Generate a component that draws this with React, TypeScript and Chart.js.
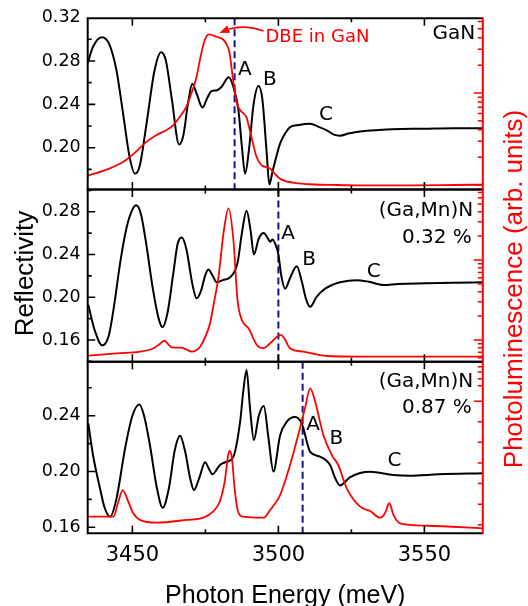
import React, { useEffect, useRef } from 'react';
import { Chart, registerables } from 'chart.js';

Chart.register(...registerables);

// ---------------- data ----------------
const xMajorTicks = [3450, 3500, 3550];
const xMinorTicks = [3475, 3525];

// GaN
const ganReflE = [3434.7, 3436.5, 3439.5, 3442, 3444.5, 3447, 3449, 3450.9, 3452.5, 3455, 3457.5, 3459.8, 3461.5, 3463.5, 3466, 3467.5, 3469, 3470.5, 3472, 3474, 3475.5, 3477, 3479, 3480.5, 3483, 3484.6, 3486.3, 3487.5, 3488.6, 3490, 3491.5, 3493.2, 3494.5, 3496, 3496.9, 3498, 3500.6, 3502.5, 3504, 3507, 3510.8, 3514, 3516.6, 3519, 3521.1, 3524, 3528, 3533, 3539, 3550, 3560, 3570];
const ganRefl = [0.278, 0.293, 0.302, 0.296, 0.272, 0.228, 0.192, 0.176, 0.183, 0.225, 0.270, 0.288, 0.280, 0.245, 0.203, 0.212, 0.240, 0.259, 0.250, 0.237, 0.245, 0.252, 0.253, 0.256, 0.265, 0.256, 0.235, 0.201, 0.176, 0.200, 0.240, 0.257, 0.245, 0.195, 0.166, 0.178, 0.204, 0.214, 0.219, 0.221, 0.222, 0.219, 0.216, 0.212, 0.211, 0.213, 0.215, 0.216, 0.217, 0.2175, 0.218, 0.218];
const ganPlE = [3434.7, 3442.3, 3446.9, 3450.3, 3454.9, 3458.3, 3461.7, 3464, 3466.2, 3468.5, 3470.2, 3472, 3473.1, 3474.8, 3476.2, 3478.8, 3481, 3482.4, 3483.3, 3484.5, 3485.8, 3487.3, 3489, 3490.2, 3491.3, 3492.5, 3494.2, 3497, 3498.3, 3500.4, 3505, 3510.8, 3520, 3530, 3545, 3560, 3570];
const ganPl = [1.26, 1.52, 1.79, 2.17, 2.96, 3.5, 3.96, 4.49, 5.5, 7.1, 9.9, 15, 22.8, 37.7, 43.5, 40.9, 38.4, 33.2, 27, 13.8, 7.7, 6.3, 5.5, 3.96, 2.84, 2.03, 1.65, 1.52, 1.38, 1.18, 1.06, 1.02, 1.0, 0.99, 0.99, 1.0, 1.01];

// (Ga,Mn)N 0.32 %
const mn032ReflE = [3434.9, 3437, 3439.7, 3442, 3444, 3445.8, 3448, 3450, 3451.3, 3453, 3454.9, 3457, 3459, 3460.3, 3462, 3464, 3465.5, 3466.9, 3468.5, 3470.5, 3472, 3473.5, 3475, 3476, 3477.5, 3478.9, 3481, 3483.6, 3486, 3487.5, 3489.1, 3490.5, 3491.6, 3493.3, 3495, 3496.2, 3497.2, 3498, 3498.9, 3500, 3501, 3502.3, 3504, 3506.3, 3508, 3509.5, 3510.9, 3513, 3515.5, 3518, 3521.1, 3526.8, 3531, 3536, 3541, 3550.8, 3560, 3570];
const mn032Refl = [0.193, 0.170, 0.155, 0.165, 0.197, 0.232, 0.265, 0.282, 0.286, 0.277, 0.247, 0.208, 0.180, 0.172, 0.185, 0.222, 0.250, 0.256, 0.245, 0.213, 0.199, 0.206, 0.221, 0.226, 0.220, 0.214, 0.216, 0.219, 0.232, 0.260, 0.281, 0.262, 0.240, 0.255, 0.260, 0.256, 0.252, 0.254, 0.250, 0.240, 0.220, 0.208, 0.218, 0.229, 0.215, 0.198, 0.191, 0.200, 0.207, 0.211, 0.214, 0.216, 0.2145, 0.2115, 0.2125, 0.213, 0.2135, 0.214];
const mn032PlE = [3434.9, 3444.7, 3452.6, 3457.2, 3459.5, 3461, 3462.3, 3463.5, 3466.9, 3468.5, 3470.3, 3472, 3473.2, 3475, 3476.6, 3478, 3479.5, 3481.2, 3482.9, 3484.6, 3486, 3487.5, 3489.8, 3492.6, 3494.9, 3497.2, 3499.5, 3500.8, 3502, 3504, 3508.6, 3516.6, 3528, 3545, 3570];
const mn032Pl = [0.637, 0.68, 0.714, 0.787, 0.9, 0.98, 0.88, 0.81, 0.80, 0.76, 0.714, 0.75, 0.825, 1.1, 1.62, 3.0, 6.2, 21.6, 44.3, 17.8, 3.16, 1.78, 1.40, 0.866, 0.79, 0.91, 1.1, 1.155, 1.05, 0.79, 0.714, 0.63, 0.62, 0.62, 0.62];

// (Ga,Mn)N 0.87 %
const mn087ReflE = [3434.9, 3436.5, 3438.9, 3440.5, 3442.4, 3444.5, 3447.5, 3450, 3452.4, 3454, 3456, 3458.5, 3460.4, 3462.5, 3464.5, 3466.3, 3468, 3469.8, 3471.1, 3473, 3474.9, 3476.2, 3477.4, 3480, 3482.3, 3484.6, 3486.9, 3488, 3489.1, 3490.3, 3491.6, 3493.3, 3495, 3496.6, 3498.3, 3500.6, 3502.9, 3505.7, 3508, 3510.9, 3514.3, 3517.7, 3519.5, 3521.1, 3524.6, 3531.4, 3539.4, 3545, 3555, 3570];
const mn087Refl = [0.2345, 0.212, 0.188, 0.174, 0.1676, 0.180, 0.2166, 0.240, 0.248, 0.240, 0.219, 0.187, 0.174, 0.188, 0.215, 0.2257, 0.215, 0.195, 0.1867, 0.196, 0.2066, 0.202, 0.198, 0.2047, 0.207, 0.2106, 0.2357, 0.258, 0.2728, 0.245, 0.2226, 0.240, 0.247, 0.224, 0.200, 0.226, 0.2357, 0.239, 0.2345, 0.214, 0.2106, 0.2047, 0.195, 0.190, 0.196, 0.1998, 0.1975, 0.197, 0.198, 0.1987];
const mn087PlE = [3434.9, 3443.5, 3445.2, 3446.7, 3448.6, 3450.3, 3452.6, 3458.3, 3468.6, 3474.3, 3477.6, 3479.9, 3481.6, 3482.8, 3483.3, 3484.1, 3485, 3486.2, 3487.9, 3494.9, 3497.2, 3500.6, 3504, 3506.8, 3509.1, 3510.9, 3512.6, 3515.4, 3518.3, 3520.5, 3523.4, 3528, 3531.4, 3534.8, 3536.5, 3538, 3539.4, 3541.7, 3550.8, 3570];
const mn087Pl = [9.7, 9.7, 18.4, 25.2, 18.4, 11.7, 7.8, 6.2, 7.8, 9.1, 12.6, 18.4, 30, 45.6, 48, 43.7, 26.2, 12.6, 9.7, 9.1, 13.6, 22.3, 39.8, 57.3, 72.8, 84.5, 76.7, 57.3, 45.6, 39.8, 26.2, 15.5, 13, 9.1, 11.7, 17.5, 10.7, 5.8, 4.4, 2.9];

// y tick labels
const ganYTicks = [0.20, 0.24, 0.28, 0.32];
const ganYMinor = [0.18, 0.22, 0.26, 0.30];
const mn032YTicks = [0.16, 0.20, 0.24, 0.28];
const mn032YMinor = [0.14, 0.18, 0.22, 0.26, 0.30];
const mn087YTicks = [0.16, 0.20, 0.24];
const mn087YMinor = [0.18, 0.22, 0.26];
const mn087PlTicks = [5, 17, 29, 41, 53, 65, 77, 86, 90, 94, 97];

// ---------------- layout / style ----------------
const W = 528, H = 606;
const LEFT = 87.7, RIGHT = 482.8;
const BOUNDS = [18.3, 189.5, 361.7, 533.3];
const X_MIN = 3434.7, X_MAX = 3570;
const RED = '#ff0000';
const BLUE = '#14148c';
const TICK_FONT = 'DejaVu Sans';
const TITLE_FONT = 'Liberation Sans';

type Txt = { t: string; e?: number; r?: number; dx?: number; dy?: number; right?: boolean };

interface Panel {
  reflE: number[]; refl: number[]; plE: number[]; pl: number[];
  yMin: number; yMax: number; yTicks: number[]; yMinor: number[];
  plLog: boolean; plMin: number; plMax: number; plTicks?: number[];
  dashE: number; texts: Txt[];
}

const panels: Panel[] = [
  {
    reflE: ganReflE, refl: ganRefl, plE: ganPlE, pl: ganPl,
    yMin: 0.1614, yMax: 0.3194, yTicks: ganYTicks, yMinor: ganYMinor,
    plLog: true, plMin: 0.894, plMax: 64.9, dashE: 3485,
    texts: [
      { t: 'A', e: 3486.2, r: 0.2671 },
      { t: 'B', e: 3494.7, r: 0.2581 },
      { t: 'C', e: 3513.9, r: 0.2251 },
      { t: 'GaN', dx: -7.5, dy: 20.7, right: true },
    ],
  },
  {
    reflE: mn032ReflE, refl: mn032Refl, plE: mn032PlE, pl: mn032Pl,
    yMin: 0.1397, yMax: 0.3008, yTicks: mn032YTicks, yMinor: mn032YMinor,
    plLog: true, plMin: 0.535, plMax: 76.1, dashE: 3500,
    texts: [
      { t: 'A', e: 3501.0, r: 0.2542 },
      { t: 'B', e: 3508.2, r: 0.2301 },
      { t: 'C', e: 3530.3, r: 0.2189 },
      { t: '(Ga,Mn)N', dx: -9.5, dy: 26.5, right: true },
      { t: '0.32 %', dx: -11, dy: 53, right: true },
    ],
  },
  {
    reflE: mn087ReflE, refl: mn087Refl, plE: mn087PlE, pl: mn087Pl,
    yMin: 0.1557, yMax: 0.2787, yTicks: mn087YTicks, yMinor: mn087YMinor,
    plLog: false, plMin: 0, plMax: 100, plTicks: mn087PlTicks, dashE: 3508.3,
    texts: [
      { t: 'A', e: 3509.5, r: 0.2297 },
      { t: 'B', e: 3517.5, r: 0.2197 },
      { t: 'C', e: 3537.4, r: 0.2036 },
      { t: '(Ga,Mn)N', dx: -9.5, dy: 25.6, right: true },
      { t: '0.87 %', dx: -11, dy: 51.3, right: true },
    ],
  },
];

function logTicks(min: number, max: number) {
  const out: { v: number; major: boolean }[] = [];
  for (let d = Math.floor(Math.log10(min)); d <= Math.ceil(Math.log10(max)); d++) {
    for (let m = 1; m <= 9; m++) {
      const v = m * Math.pow(10, d);
      if (v >= min && v <= max) out.push({ v, major: m === 1 });
    }
  }
  return out;
}

function panelPlugin(p: Panel, idx: number) {
  return {
    id: 'panelDeco' + idx,
    beforeDatasetsDraw(chart: any) {
      const { ctx, chartArea: a, scales } = chart;
      const x = scales.x.getPixelForValue(p.dashE);
      ctx.save();
      ctx.strokeStyle = BLUE;
      ctx.lineWidth = 2;
      ctx.setLineDash([7, 4]);
      ctx.beginPath();
      ctx.moveTo(x, a.top);
      ctx.lineTo(x, a.bottom);
      ctx.stroke();
      ctx.restore();
    },
    afterDraw(chart: any) {
      const { ctx, chartArea: a, scales } = chart;
      const xs = scales.x, ys = scales.y, y2 = scales.y2;
      ctx.save();
      // x ticks (top & bottom, inward)
      ctx.strokeStyle = '#000';
      ctx.lineWidth = 1.6;
      ctx.beginPath();
      const xt = (v: number, len: number) => {
        const px = xs.getPixelForValue(v);
        ctx.moveTo(px, a.top); ctx.lineTo(px, a.top + len);
        ctx.moveTo(px, a.bottom); ctx.lineTo(px, a.bottom - len);
      };
      xMajorTicks.forEach(v => xt(v, 7.5));
      xMinorTicks.forEach(v => xt(v, 4));
      const yt = (v: number, len: number) => {
        const py = ys.getPixelForValue(v);
        if (py < a.top - 0.5 || py > a.bottom + 0.5) return;
        ctx.moveTo(a.left, py); ctx.lineTo(a.left + len, py);
      };
      p.yTicks.forEach(v => yt(v, 7.5));
      p.yMinor.forEach(v => yt(v, 4));
      ctx.stroke();
      // frame
      ctx.lineWidth = 2;
      ctx.beginPath();
      ctx.moveTo(a.right, a.top);
      ctx.lineTo(a.left, a.top);
      ctx.lineTo(a.left, a.bottom);
      ctx.lineTo(a.right, a.bottom);
      ctx.stroke();
      // right (PL) axis
      ctx.strokeStyle = RED;
      ctx.lineWidth = 2;
      ctx.beginPath();
      ctx.moveTo(a.right, a.top - 1);
      ctx.lineTo(a.right, a.bottom + 1);
      ctx.stroke();
      ctx.lineWidth = 1.5;
      ctx.beginPath();
      const rticks = p.plLog ? logTicks(p.plMin, p.plMax) : (p.plTicks || []).map((v, i) => ({ v, major: i === 6 }));
      rticks.forEach(({ v, major }) => {
        const py = y2.getPixelForValue(v);
        ctx.moveTo(a.right, py); ctx.lineTo(a.right - (major ? 9 : 5), py);
      });
      ctx.stroke();
      // texts
      ctx.fillStyle = '#000';
      ctx.font = `20px "${TICK_FONT}"`;
      ctx.textBaseline = 'alphabetic';
      p.texts.forEach(t => {
        if (t.right) {
          ctx.textAlign = 'right';
          ctx.fillText(t.t, a.right + (t.dx || 0), a.top + (t.dy || 0));
        } else {
          ctx.textAlign = 'left';
          ctx.fillText(t.t, xs.getPixelForValue(t.e), ys.getPixelForValue(t.r));
        }
      });
      if (idx === 0) {
        // DBE annotation
        ctx.fillStyle = RED;
        ctx.strokeStyle = RED;
        ctx.font = `18px "${TICK_FONT}"`;
        ctx.textAlign = 'left';
        ctx.fillText('DBE in GaN', 265.5, 41.5);
        ctx.lineWidth = 1.8;
        ctx.beginPath();
        ctx.moveTo(263.5, 31);
        ctx.quadraticCurveTo(246, 24.5, 229, 29);
        ctx.stroke();
        const tipX = 219.5, tipY = 33;
        const ang = Math.atan2(tipY - 29, tipX - 229);
        const L = 10, Wd = 4;
        const bx = tipX - L * Math.cos(ang), by = tipY - L * Math.sin(ang);
        ctx.beginPath();
        ctx.moveTo(tipX, tipY);
        ctx.lineTo(bx + Wd * Math.sin(ang), by - Wd * Math.cos(ang));
        ctx.lineTo(bx - Wd * Math.sin(ang), by + Wd * Math.cos(ang));
        ctx.closePath();
        ctx.fill();
      }
      if (idx === 2) {
        // axis titles
        ctx.fillStyle = '#000';
        ctx.textAlign = 'center';
        ctx.textBaseline = 'alphabetic';
        ctx.font = `25px "${TITLE_FONT}"`;
        ctx.fillText('Photon Energy (meV)', (a.left + a.right) / 2, 603);
        ctx.font = `26px "${TITLE_FONT}"`;
        ctx.save();
        ctx.translate(33, 273.5);
        ctx.rotate(-Math.PI / 2);
        ctx.fillText('Reflectivity', 0, 0);
        ctx.restore();
        ctx.save();
        ctx.fillStyle = RED;
        ctx.translate(521.5, 289);
        ctx.rotate(-Math.PI / 2);
        ctx.fillText('Photoluminescence (arb. units)', 0, 0);
        ctx.restore();
      }
      ctx.restore();
    },
  };
}

function makeChart(canvas: HTMLCanvasElement, p: Panel, idx: number) {
  const isBottom = idx === 2;
  const top = BOUNDS[idx], bottom = BOUNDS[idx + 1];
  const Y_AXIS_W = 80;
  return new Chart(canvas, {
    type: 'line',
    data: {
      datasets: [
        {
          label: 'PL',
          data: p.plE.map((x, i) => ({ x, y: p.pl[i] })),
          yAxisID: 'y2',
          borderColor: RED,
          borderWidth: 1.8,
          pointRadius: 0,
          fill: false,
          cubicInterpolationMode: 'monotone',
        },
        {
          label: 'Reflectivity',
          data: p.reflE.map((x, i) => ({ x, y: p.refl[i] })),
          yAxisID: 'y',
          borderColor: '#000',
          borderWidth: 2,
          pointRadius: 0,
          fill: false,
          cubicInterpolationMode: 'monotone',
        },
      ],
    },
    options: {
      animation: false,
      responsive: false,
      events: [],
      layout: {
        padding: {
          left: LEFT - Y_AXIS_W,
          right: W - RIGHT,
          top,
          bottom: isBottom ? 0 : H - bottom,
        },
      },
      plugins: { legend: { display: false }, tooltip: { enabled: false } },
      scales: {
        x: {
          type: 'linear',
          min: X_MIN,
          max: X_MAX,
          display: isBottom,
          grid: { display: false, drawTicks: false },
          border: { display: false },
          afterBuildTicks: (s: any) => { s.ticks = xMajorTicks.map(v => ({ value: v })); },
          afterFit: (s: any) => { s.height = isBottom ? H - bottom : 0; },
          ticks: {
            autoSkip: false,
            maxRotation: 0,
            color: '#000',
            padding: 9.5,
            font: { family: TICK_FONT, size: 21 },
            callback: (v: any) => String(v),
          },
        },
        y: {
          type: 'linear',
          position: 'left',
          min: p.yMin,
          max: p.yMax,
          grid: { display: false, drawTicks: false },
          border: { display: false },
          afterBuildTicks: (s: any) => { s.ticks = p.yTicks.map(v => ({ value: v })); },
          afterFit: (s: any) => { s.width = Y_AXIS_W; },
          ticks: {
            autoSkip: false,
            color: '#000',
            padding: 7,
            font: { family: TICK_FONT, size: 17.5 },
            callback: (v: any) => Number(v).toFixed(2),
          },
        },
        y2: {
          type: p.plLog ? 'logarithmic' : 'linear',
          position: 'right',
          min: p.plMin,
          max: p.plMax,
          display: false,
          afterFit: (s: any) => { s.width = 0; },
        },
      },
    } as any,
    plugins: [panelPlugin(p, idx)],
  });
}

export default function App() {
  const r0 = useRef<HTMLCanvasElement>(null);
  const r1 = useRef<HTMLCanvasElement>(null);
  const r2 = useRef<HTMLCanvasElement>(null);
  const refs = [r0, r1, r2];
  useEffect(() => {
    const charts = panels.map((p, i) => makeChart(refs[i].current as HTMLCanvasElement, p, i));
    return () => charts.forEach(c => c.destroy());
  }, []);
  return (
    <div style={{ position: 'fixed', left: 0, top: 0, width: W, height: H, background: '#fff', overflow: 'hidden' }}>
      {refs.map((r, i) => (
        <canvas key={i} ref={r} width={W} height={H}
          style={{ position: 'absolute', left: 0, top: 0, width: W, height: H }} />
      ))}
    </div>
  );
}
